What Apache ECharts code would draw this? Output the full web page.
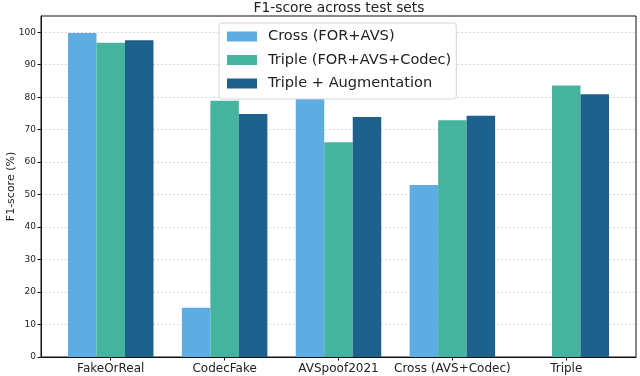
<!DOCTYPE html>
<html>
<head>
<meta charset="UTF-8">
<title>F1-score across test sets</title>
<script src="https://cdn.jsdelivr.net/npm/echarts@6/dist/echarts.min.js"></script>
<style>
  html, body { margin: 0; padding: 0; background: #fff; }
  #chart { width: 640px; height: 376px; }
</style>
</head>
<body>
<div id="chart"></div>
<script>
var categories = ['FakeOrReal', 'CodecFake', 'AVSpoof2021', 'Cross (AVS+Codec)', 'Triple'];
var seriesNames = ['Cross (FOR+AVS)', 'Triple (FOR+AVS+Codec)', 'Triple + Augmentation'];
var crossVals = [99.8, 15.2, 79.5, 53.0, null];
var tripleVals = [96.8, 78.9, 66.1, 72.9, 83.6];
var augVals = [97.5, 74.8, 73.9, 74.3, 80.9];
var yTicks = [0, 10, 20, 30, 40, 50, 60, 70, 80, 90, 100];
var colors = ['#5DADE2', '#45B39D', '#1F618D'];

var font = 'DejaVu Sans';
var chart = echarts.init(document.getElementById('chart'));

// bars sit on a numeric x axis so the side margins match the original (0.05 padding)
function pairs(vals) {
  return vals.map(function (v, i) { return [i, v]; });
}
var catIdx = categories.map(function (c, i) { return i; });

function bar(name, vals, color) {
  return {
    name: name,
    type: 'bar',
    data: pairs(vals),
    barWidth: 28.5,
    barGap: '0%',
    itemStyle: { color: color },
    z: 3
  };
}

var option = {
  animation: false,
  color: colors,
  title: {
    text: 'F1-score across test sets',
    left: 339, top: 1,
    padding: [0, 0, 0, 0],
    textAlign: 'center',
    textStyle: { fontFamily: font, fontSize: 13.8, fontWeight: 'normal', color: '#222' }
  },
  grid: {
    left: 41, right: 4, top: 16, bottom: 19,
    outerBoundsMode: 'none',
    show: true, borderColor: '#111', borderWidth: 1
  },
  legend: {
    orient: 'vertical',
    left: 219, top: 23,
    padding: [6, 5, 8, 8],
    itemWidth: 30, itemHeight: 10, itemGap: 8.5,
    icon: 'rect',
    backgroundColor: 'rgba(255,255,255,0.85)',
    borderColor: '#d6d6d6', borderWidth: 1, borderRadius: 3,
    textStyle: { fontFamily: font, fontSize: 14.6, lineHeight: 14, color: '#222', padding: [0, 0, 0, 6] },
    data: seriesNames
  },
  xAxis: {
    type: 'value',
    min: -0.6125, max: 4.6125,
    axisLine: { show: true, onZero: false, lineStyle: { color: '#111' } },
    axisTick: { show: true, length: 3.5, customValues: catIdx, lineStyle: { color: '#111' } },
    axisLabel: {
      customValues: catIdx,
      fontFamily: font, fontSize: 12, color: '#222', margin: 6,
      formatter: function (v) { return categories[Math.round(v)]; }
    },
    splitLine: { show: false }
  },
  yAxis: {
    type: 'value',
    min: 0, max: 105, interval: 10,
    name: 'F1-score (%)',
    nameLocation: 'middle',
    nameGap: 24,
    nameMoveOverlap: false,
    nameTextStyle: { fontFamily: font, fontSize: 11, color: '#222' },
    axisLine: { show: true, onZero: false, lineStyle: { color: '#111' } },
    axisTick: { show: true, length: 3.5, customValues: yTicks, lineStyle: { color: '#111' } },
    axisLabel: { customValues: yTicks, fontFamily: font, fontSize: 9, color: '#222', margin: 5 },
    splitLine: { show: true, lineStyle: { color: '#d4d4d4', type: [2, 2], width: 0.8 } }
  },
  series: [
    bar(seriesNames[0], crossVals, colors[0]),
    bar(seriesNames[1], tripleVals, colors[1]),
    bar(seriesNames[2], augVals, colors[2])
  ]
};

chart.setOption(option);
</script>
</body>
</html>
